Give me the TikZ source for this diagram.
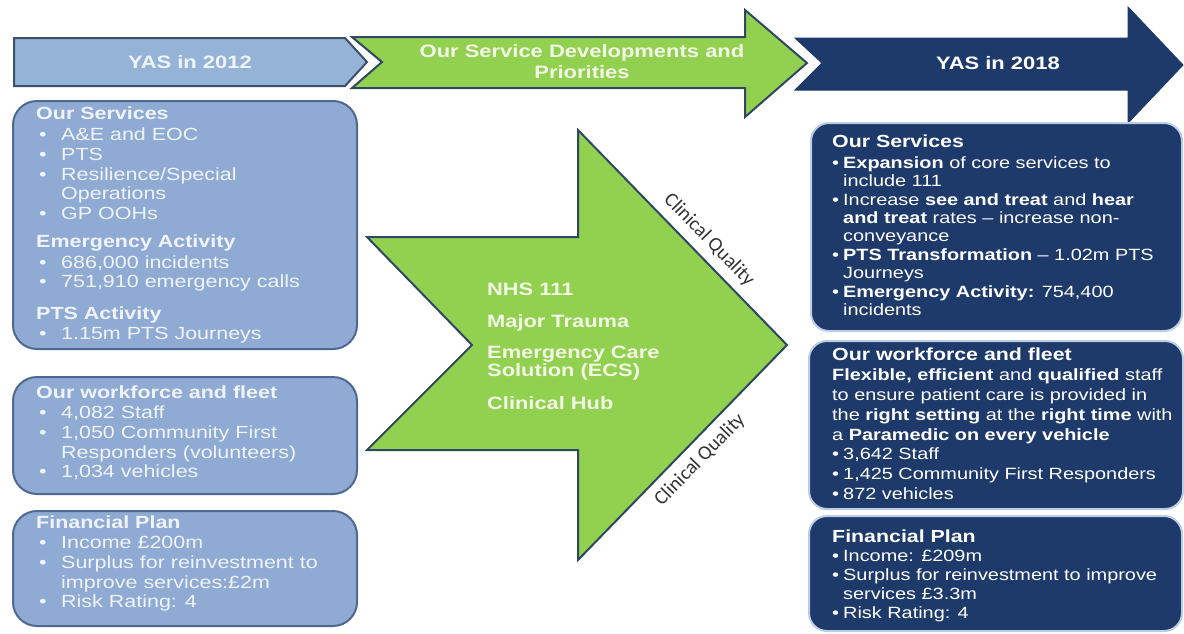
\documentclass[tikz,border=0pt]{standalone}
\usepackage{fontspec}
\setmainfont{Liberation Sans}[FakeStretch=1.22]
\newfontfamily\cqfont{Carlito}
\usetikzlibrary{positioning}
% colours
\definecolor{paleblue}{RGB}{143,170,211}
\definecolor{paleline}{RGB}{78,104,145}
\definecolor{paletext}{RGB}{240,244,250}
\definecolor{barblue}{RGB}{149,179,215}
\definecolor{barline}{RGB}{58,79,107}
\definecolor{devgreen}{RGB}{146,208,80}
\definecolor{devline}{RGB}{46,72,98}
\definecolor{devtext}{RGB}{243,248,230}
\definecolor{navy}{RGB}{30,58,107}
\definecolor{navyline}{RGB}{186,205,229}
% bullets for the 2012 side and the 2018 side
\newcommand{\lbul}{\makebox[25pt][l]{\hspace{3pt}\textbullet}}
\newcommand{\lind}{\hspace*{25pt}}
\newcommand{\rbul}{\makebox[11pt][l]{\textbullet}}
\newcommand{\rind}{\hspace*{11pt}}

\begin{document}
\begin{tikzpicture}[x=1pt,y=-1pt,
    every node/.style={inner sep=0pt},
    oldbox/.style={rectangle,rounded corners=24pt,draw=paleline,fill=paleblue,
      line width=2pt,anchor=north west},
    newbox/.style={rectangle,rounded corners=18pt,draw=navyline,fill=navy,
      line width=2pt,anchor=north west},
    oldtext/.style={anchor=north west,align=left,text=paletext,
      font=\fontsize{17.6}{19.75}\selectfont},
    newtext/.style={anchor=north west,align=left,text=white,
      font=\fontsize{16.3}{19}\selectfont},
    bartext/.style={align=center,font=\fontsize{18}{21}\selectfont\bfseries},
    cqlabel/.style={text=black!80,font=\cqfont\fontsize{20}{22}\selectfont}
  ]
  \useasboundingbox (0,0) rectangle (1184,633);

  % header bar
  \draw[fill=barblue,draw=barline,line width=2pt]
    (14,38) -- (345,38) -- (367,62) -- (345,86) -- (14,86) -- cycle;
  \draw[fill=devgreen,draw=devline,line width=2pt]
    (352,37) -- (745,37) -- (745,10) -- (807,63) -- (745,117) -- (745,88)
    -- (352,88) -- (382,62) -- cycle;
  \draw[fill=navy,draw=navy,line width=1pt]
    (795,38) -- (1128,38) -- (1128,7) -- (1183,65) -- (1128,123) -- (1128,90)
    -- (795,90) -- (822,63) -- cycle;
  \node[bartext,text=paletext] (yas12) at (190,62) {YAS in 2012};
  \node[bartext,text=devtext] (devhead) at (582,62)
    {Our Service Developments and\\Priorities};
  \node[bartext,text=white] (yas18) at (998,63) {YAS in 2018};

  % 2012 column
  \node[oldbox,minimum width=344pt,minimum height=248pt] (svc12) at (12,100) {};
  \node[oldtext,below right=7pt and 24pt of svc12.north west] (svc12txt) {%
    \textbf{Our Services}\\[1pt]
    \lbul A\&E and EOC\\
    \lbul PTS\\
    \lbul Resilience/Special\\
    \lind Operations\\
    \lbul GP OOHs\\[8pt]
    \textbf{Emergency Activity}\\[1pt]
    \lbul 686,000 incidents\\
    \lbul 751,910 emergency calls\\[12pt]
    \textbf{PTS Activity}\\
    \lbul 1.15m PTS Journeys};

  \node[oldbox,minimum width=344pt,minimum height=117pt] (crew12) at (12,376) {};
  \node[oldtext,below right=10pt and 24pt of crew12.north west] (crew12txt) {%
    \textbf{Our workforce and fleet}\\
    \lbul 4,082 Staff\\
    \lbul 1,050 Community First\\
    \lind Responders (volunteers)\\
    \lbul 1,034 vehicles};

  \node[oldbox,minimum width=344pt,minimum height=115pt] (money12) at (12,510) {};
  \node[oldtext,below right=6pt and 24pt of money12.north west] (money12txt) {%
    \textbf{Financial Plan}\\
    \lbul Income £200m\\
    \lbul Surplus for reinvestment to\\
    \lind improve services:£2m\\
    \lbul Risk Rating: 4};

  % developments arrow
  \draw[fill=devgreen,draw=devline,line width=2pt]
    (367,237) -- (578,237) -- (578,130) -- (787,345) -- (578,560) -- (578,450)
    -- (367,450) -- (472,345) -- cycle;
  \node[anchor=north west,align=left,text=devtext,
    font=\fontsize{17.9}{17.5}\selectfont\bfseries] (devlist) at (487,283) {%
    NHS 111\\[14pt]
    Major Trauma\\[14pt]
    Emergency Care\\
    Solution (ECS)\\[16pt]
    Clinical Hub};
  \node[cqlabel,rotate=-45.8] (cqtop) at (709,240) {Clinical Quality};
  \node[cqlabel,rotate=45.8] (cqbot) at (700,460) {Clinical Quality};

  % 2018 column
  \node[newbox,minimum width=371pt,minimum height=208pt] (svc18) at (810,122) {};
  \node[newtext,font=\fontsize{16.3}{18.4}\selectfont,
    below right=13pt and 22pt of svc18.north west] (svc18txt) {%
    {\fontsize{17.5}{18.4}\selectfont\bfseries Our Services}\\[2pt]
    \rbul\textbf{Expansion} of core services to\\
    \rind include 111\\
    \rbul Increase \textbf{see and treat} and \textbf{hear}\\
    \rind\textbf{and treat} rates – increase non-\\
    \rind conveyance\\
    \rbul\textbf{PTS Transformation} – 1.02m PTS\\
    \rind Journeys\\
    \rbul\textbf{Emergency Activity:} 754,400\\
    \rind incidents};

  \node[newbox,minimum width=374pt,minimum height=168pt] (crew18) at (808,340) {};
  \node[newtext,font=\fontsize{16.3}{19.8}\selectfont,
    below right=8pt and 24pt of crew18.north west] (crew18txt) {%
    {\fontsize{17.5}{19.8}\selectfont\bfseries Our workforce and fleet}\\
    \textbf{Flexible, efficient} and \textbf{qualified} staff\\
    to ensure patient care is provided in\\
    the \textbf{right setting} at the \textbf{right time} with\\
    a \textbf{Paramedic on every vehicle}\\
    \rbul 3,642 Staff\\
    \rbul 1,425 Community First Responders\\
    \rbul 872 vehicles};

  \node[newbox,minimum width=373pt,minimum height=115pt] (money18) at (808,515) {};
  \node[newtext,below right=15pt and 24pt of money18.north west] (money18txt) {%
    {\fontsize{17.5}{19}\selectfont\bfseries Financial Plan}\\
    \rbul Income: £209m\\
    \rbul Surplus for reinvestment to improve\\
    \rind services £3.3m\\
    \rbul Risk Rating: 4};
\end{tikzpicture}
\end{document}
